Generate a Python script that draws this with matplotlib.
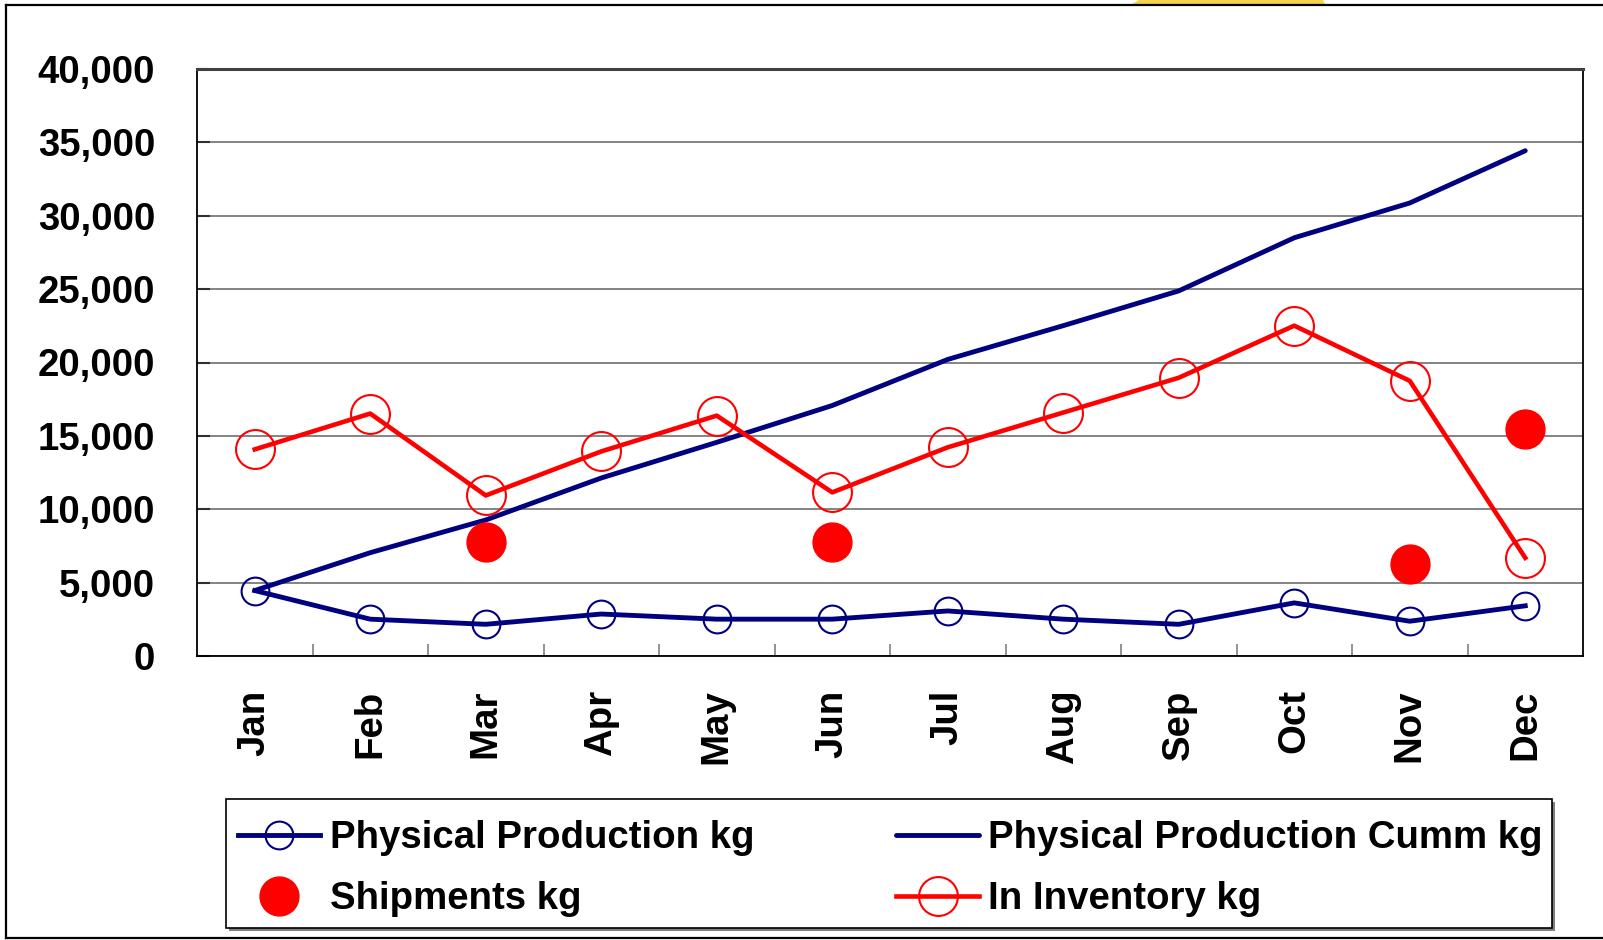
import matplotlib
matplotlib.use("Agg")
import matplotlib.pyplot as plt
from matplotlib.lines import Line2D
from matplotlib.patches import Polygon, Rectangle
from matplotlib.ticker import FuncFormatter, FixedLocator
import numpy as np

plt.rcParams['font.family'] = ['Liberation Sans', 'DejaVu Sans']
plt.rcParams['font.weight'] = 'bold'

months = ['Jan', 'Feb', 'Mar', 'Apr', 'May', 'Jun',
          'Jul', 'Aug', 'Sep', 'Oct', 'Nov', 'Dec']
production = [4460, 2510, 2160, 2860, 2510, 2510, 3070, 2510, 2160, 3620, 2370, 3420]
production_cumm = [4460, 7040, 9270, 12130, 14560, 17070, 20210, 22510, 24880, 28500, 30870, 34430]
shipments = [np.nan, np.nan, 7740, np.nan, np.nan, 7740,
             np.nan, np.nan, np.nan, np.nan, 6270, 15470]
inventory = [14080, 16520, 10940, 13940, 16380, 11150, 14220, 16590, 18960, 22510, 18750, 6690]

NAVY = '#000080'
RED = '#ff0000'
FS = 27.6
W, H = 1603, 940


def fx(px):
    return px / W


def fy(py):
    return 1 - py / H


fig = plt.figure(figsize=(W / 100, H / 100), dpi=100)
ax = fig.add_axes([fx(197), fy(656), (1583 - 197) / W, (656 - 69) / H])

x = np.arange(len(months))
ax.plot(x, production_cumm, color=NAVY, lw=3.5, solid_capstyle='round',
        label='Physical Production Cumm kg', zorder=3)
ax.plot(x, production, color=NAVY, lw=3.5, marker='o', ms=20, mfc='none',
        mec=NAVY, mew=1.5, label='Physical Production kg', zorder=4)
ax.plot(x, inventory, color=RED, lw=3.3, marker='o', ms=28, mfc='none',
        mec=RED, mew=1.5, label='In Inventory kg', zorder=4)
ax.plot(x, shipments, ls='none', marker='o', ms=28, color=RED,
        label='Shipments kg', zorder=5)

ax.set_xlim(-0.5, len(months) - 0.5)
ax.set_ylim(0, 40000)
ax.set_yticks(np.arange(0, 40001, 5000))
ax.yaxis.set_major_formatter(FuncFormatter(lambda v, p: f'{int(v):,}'))
ax.grid(axis='y', color='#6e6e6e', lw=1.2, zorder=0)
ax.set_axisbelow(True)

ax.set_xticks(x)
ax.set_xticklabels(months, rotation=90, va='top', ha='center')
ax.xaxis.set_minor_locator(FixedLocator(np.arange(0.5, len(months) - 1, 1.0)))
ax.tick_params(axis='x', which='major', length=0, pad=24, labelsize=FS)
ax.tick_params(axis='x', which='minor', direction='in', length=8.6,
               width=1.2, color='#808080')
ax.tick_params(axis='y', direction='in', length=9.5, width=1.5,
               color='#303030', pad=30, labelsize=FS)

for side in ['left', 'bottom', 'right']:
    ax.spines[side].set_color('black')
    ax.spines[side].set_linewidth(1.3)
ax.spines['top'].set_color('#404040')
ax.spines['top'].set_linewidth(2.2)

# legend box with a gray drop shadow, drawn by hand so its size matches
fig.add_artist(Rectangle((fx(229), fy(931)), (1552 - 226) / W, (928 - 799) / H,
                         transform=fig.transFigure, facecolor='#808080',
                         edgecolor='none', zorder=1))
fig.add_artist(Rectangle((fx(226), fy(928)), (1552 - 226) / W, (928 - 799) / H,
                         transform=fig.transFigure, facecolor='white',
                         edgecolor='black', lw=1.2, zorder=2))

handles, labels = ax.get_legend_handles_labels()
order = [1, 3, 0, 2]
leg = fig.legend([handles[i] for i in order], [labels[i] for i in order],
                 loc='upper left', bbox_to_anchor=(fx(238), fy(820)),
                 borderaxespad=0, borderpad=0, ncol=2, fontsize=FS,
                 numpoints=1, handlelength=2.15, handletextpad=0.25,
                 columnspacing=3.7, labelspacing=0.65, frameon=False)
leg.set_zorder(3)

# outer frame of the chart object and the slide piece above it
fig.add_artist(Line2D([fx(6), 1.0], [fy(5), fy(5)],
                      transform=fig.transFigure, color='black', lw=1.6))
fig.add_artist(Line2D([fx(6), fx(6)], [fy(5), fy(938)],
                      transform=fig.transFigure, color='black', lw=1.6))
fig.add_artist(Line2D([fx(6), 1.0], [fy(938), fy(938)],
                      transform=fig.transFigure, color='black', lw=1.6))
fig.add_artist(Polygon([[fx(1132), fy(4)], [fx(1139), 1.0],
                        [fx(1323), 1.0], [fx(1325), fy(4)]],
                       closed=True, transform=fig.transFigure,
                       color='#f3d24c', lw=0))

fig.savefig('out.png', dpi=100)
